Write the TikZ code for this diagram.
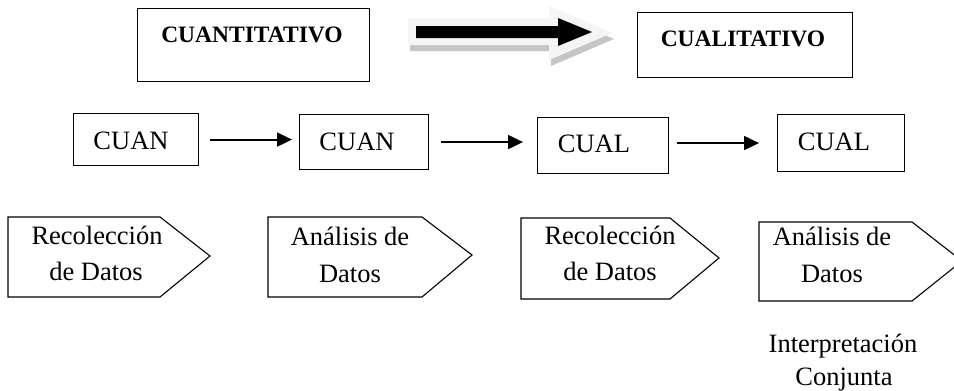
\documentclass[tikz,border=0pt]{standalone}
\usepackage{fontspec}
\setmainfont{Liberation Serif}
\usetikzlibrary{arrows.meta}
\begin{document}
\begin{tikzpicture}[x=1pt,y=-1pt,
  txt/.style={inner sep=0pt,anchor=base,font=\fontsize{26.5}{32}\selectfont},
  btxt/.style={inner sep=0pt,anchor=base,font=\bfseries\fontsize{23.5}{28}\selectfont},
  topbox/.style={draw,line width=1.4pt,anchor=north west,inner sep=0pt},
  midbox/.style={draw,line width=1.1pt,anchor=north west,inner sep=0pt},
  penta/.style={draw,line width=1.1pt},
  arr/.style={line width=2pt,-{Triangle[length=15pt,width=14pt]}}]
\clip (0,0) rectangle (954,391);
\fill[white] (0,0) rectangle (954,391);
% top boxes
\node[topbox,minimum width=232pt,minimum height=73pt] (qn) at (137,8) {};
\node[btxt] (qnt) at (252,42) {CUANTITATIVO};
\node[topbox,minimum width=215pt,minimum height=65pt] (ql) at (637,12) {};
\node[btxt] (qlt) at (743,46) {CUALITATIVO};
% big 3D arrow
\fill[gray!45] (410,24) -- (551,24) -- (551,12) -- (614,39) -- (551,66) -- (551,51) -- (410,51) -- cycle;
\fill[gray!8] (408,18) -- (549,18) -- (549,6) -- (612,33) -- (549,60) -- (549,45) -- (408,45) -- cycle;
\fill[black] (416,26) -- (558,26) -- (558,18) -- (592,32) -- (558,46) -- (558,38) -- (416,38) -- cycle;
% middle row
\node[midbox,minimum width=125pt,minimum height=52pt] (c1) at (73,113) {};
\node[txt] (c1t) at (131,149) {CUAN};
\node[midbox,minimum width=129pt,minimum height=55pt] (c2) at (299,114) {};
\node[txt] (c2t) at (357,150) {CUAN};
\node[midbox,minimum width=131pt,minimum height=56pt] (c3) at (537,117) {};
\node[txt] (c3t) at (594,152) {CUAL};
\node[midbox,minimum width=127pt,minimum height=57pt] (c4) at (777,114) {};
\node[txt] (c4t) at (834,150) {CUAL};
\draw[arr,shorten <=11pt,shorten >=7pt] (c1.east) -- (c1.east -| c2.west);
\draw[arr,shorten <=12pt,shorten >=14pt] (c2.east) -- (c2.east -| c3.west);
\draw[arr,shorten <=8pt,shorten >=18pt] (c4.west -| c3.east) -- (c4.west);
% pentagons
\draw[penta] (8,217) -- (160,217) -- (210,256) -- (160,297) -- (8,297) -- cycle;
\node[txt] (p1a) at (97,244) {Recolección};
\node[txt] (p1b) at (96,280) {de Datos};
\draw[penta] (268,217) -- (422,217) -- (472,255) -- (422,297) -- (268,297) -- cycle;
\node[txt] (p2a) at (350,245) {Análisis de};
\node[txt] (p2b) at (350,282) {Datos};
\draw[penta] (521,218) -- (670,218) -- (719,258) -- (670,299) -- (521,299) -- cycle;
\node[txt] (p3a) at (610,244) {Recolección};
\node[txt] (p3b) at (610,280) {de Datos};
\draw[penta] (759,222) -- (912,222) -- (962,261) -- (912,301) -- (759,301) -- cycle;
\node[txt] (p4a) at (832,245) {Análisis de};
\node[txt] (p4b) at (832,282) {Datos};
% bottom text
\node[txt] (i1) at (843,352) {Interpretación};
\node[txt] (i2) at (844,385) {Conjunta};
\end{tikzpicture}
\end{document}
